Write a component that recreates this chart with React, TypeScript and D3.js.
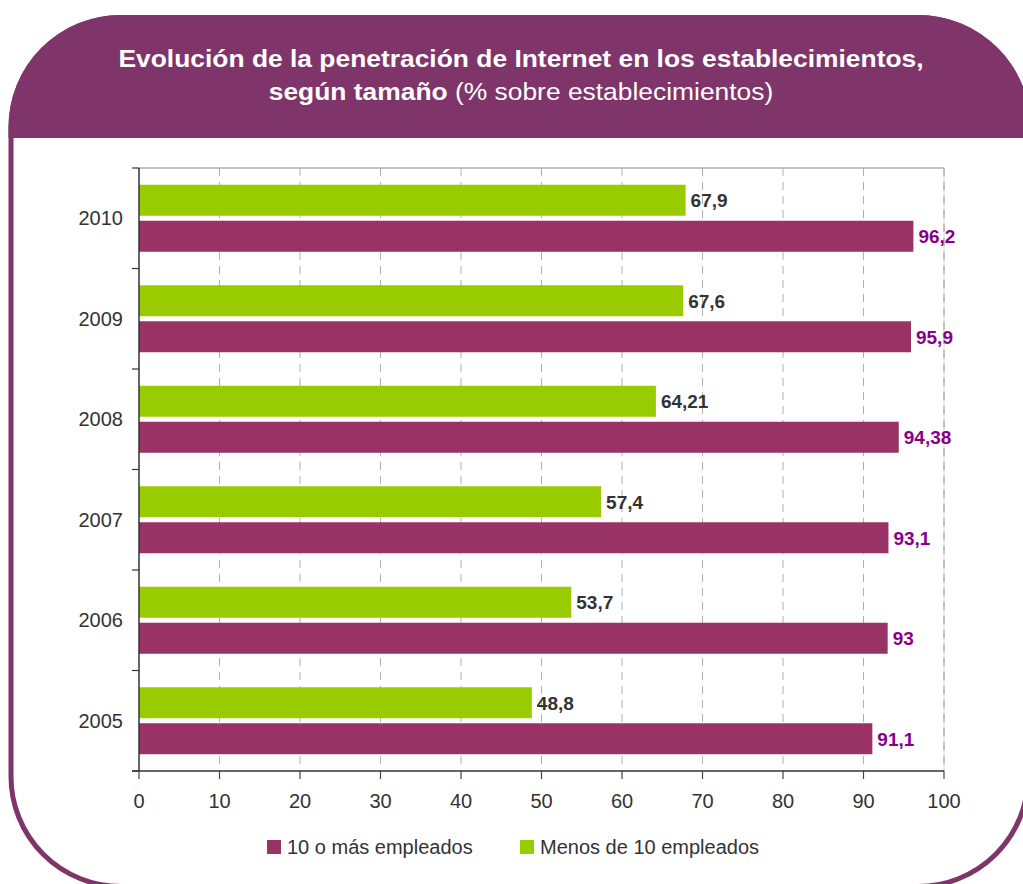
import React from 'react';
import * as d3 from 'd3';

const years = ['2010', '2009', '2008', '2007', '2006', '2005'];
const menos10 = [67.9, 67.6, 64.21, 57.4, 53.7, 48.8];
const masde10 = [96.2, 95.9, 94.38, 93.1, 93, 91.1];
const menosLabels = ['67,9', '67,6', '64,21', '57,4', '53,7', '48,8'];
const masLabels = ['96,2', '95,9', '94,38', '93,1', '93', '91,1'];
const xTicks = [0, 10, 20, 30, 40, 50, 60, 70, 80, 90, 100];
const seriesNames = ['10 o más empleados', 'Menos de 10 empleados'];

const PURPLE = '#993366';
const GREEN = '#99CC00';
const FRAME = '#80356A';
const FONT = '"Liberation Sans", Arial, sans-serif';

const App = () => {
	const W = 1023;
	const H = 884;
	const left = 139, right = 944, top = 168, bottom = 771;

	const x = d3.scaleLinear().domain([0, 100]).range([left, right]);
	const y = d3.scaleBand().domain(years).range([top, bottom]).padding(0);
	const inner = d3.scaleBand().domain(['menos', 'mas']).range([0, y.bandwidth()])
		.paddingInner(0.139).paddingOuter(0.465);

	const boundaries = years.map(d => y(d)).concat([bottom]);

	return (
		<svg width={W} height={H} style={{ position: 'absolute', left: 0, top: 0, background: '#fff' }} fontFamily={FONT}>
			<defs>
				<clipPath id="hdr">
					<rect x={0} y={0} width={W} height={138} />
				</clipPath>
			</defs>
			{/* header band */}
			<rect x={8.5} y={15} width={1022} height={874} rx={112} ry={112} fill={FRAME} clipPath="url(#hdr)" />
			{/* frame */}
			<rect x={11} y={17.5} width={1017} height={869} rx={110} ry={110} fill="none" stroke={FRAME} strokeWidth={5} />

			{/* title, slightly stretched horizontally like the original */}
			<g transform="translate(521,0) scale(1.1,1)">
				<text x={0} y={67} textAnchor="middle" fill="#fff" fontSize={24} fontWeight="bold">
					Evolución de la penetración de Internet en los establecimientos,
				</text>
				<text x={0} y={100} textAnchor="middle" fill="#fff" fontSize={24}>
					<tspan fontWeight="bold">según tamaño</tspan> (% sobre establecimientos)
				</text>
			</g>

			{/* grid */}
			{xTicks.filter(t => t > 0).map(t => (
				<line key={'g' + t} x1={x(t)} x2={x(t)} y1={top} y2={bottom}
					stroke="#b0b0b0" strokeWidth={t === 100 ? 2 : 1} strokeDasharray="8,6" />
			))}
			<line x1={x(100)} x2={x(100)} y1={top} y2={bottom} stroke="#d4d4d4" strokeWidth={1} />
			<line x1={left} x2={right} y1={top} y2={top} stroke="#b0b0b0" strokeWidth={1.5} />

			{/* bars */}
			{years.map((yr, i) => (
				<g key={yr} transform={`translate(0,${y(yr)})`}>
					<rect x={x(0)} y={inner('menos')} width={x(menos10[i]) - x(0)} height={inner.bandwidth()} fill={GREEN} />
					<rect x={x(0)} y={inner('mas')} width={x(masde10[i]) - x(0)} height={inner.bandwidth()} fill={PURPLE} />
					<text x={x(menos10[i]) + 5} y={inner('menos') + inner.bandwidth() / 2} dy="0.36em"
						fontSize={19} fontWeight="bold" fill="#333">{menosLabels[i]}</text>
					<text x={x(masde10[i]) + 5} y={inner('mas') + inner.bandwidth() / 2} dy="0.36em"
						fontSize={19} fontWeight="bold" fill="#880088">{masLabels[i]}</text>
					<text x={123} y={y.bandwidth() / 2} dy="0.36em" textAnchor="end" fontSize={20} fill="#333">{yr}</text>
				</g>
			))}

			{/* y axis */}
			<line x1={left} x2={left} y1={top} y2={bottom} stroke="#333" strokeWidth={1.5} />
			{boundaries.map((b, i) => (
				<line key={'yt' + i} x1={132} x2={left} y1={b} y2={b} stroke="#333" strokeWidth={1.2} />
			))}

			{/* x axis */}
			<line x1={132} x2={right} y1={bottom} y2={bottom} stroke="#333" strokeWidth={1.5} />
			{xTicks.map(t => (
				<g key={'xt' + t}>
					<line x1={x(t)} x2={x(t)} y1={bottom} y2={bottom + 8} stroke="#444" strokeWidth={1.2} />
					<text x={x(t)} y={808} textAnchor="middle" fontSize={20} fill="#333">{t}</text>
				</g>
			))}

			{/* legend */}
			<rect x={267} y={840} width={14} height={14} fill={PURPLE} />
			<text x={287} y={854} fontSize={20} fill="#333">{seriesNames[0]}</text>
			<rect x={520} y={840} width={14} height={14} fill={GREEN} />
			<text x={540} y={854} fontSize={20} fill="#333">{seriesNames[1]}</text>
		</svg>
	);
};

export default App;
